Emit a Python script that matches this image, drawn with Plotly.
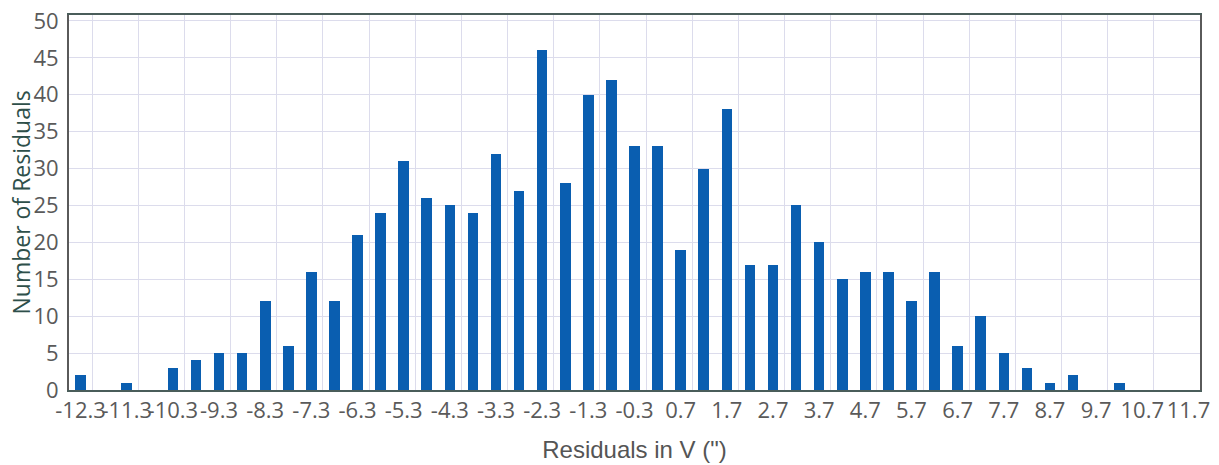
import plotly.graph_objects as go

residual_bins = [-12.3, -11.8, -11.3, -10.8, -10.3, -9.8, -9.3, -8.8, -8.3, -7.8,
                 -7.3, -6.8, -6.3, -5.8, -5.3, -4.8, -4.3, -3.8, -3.3, -2.8,
                 -2.3, -1.8, -1.3, -0.8, -0.3, 0.2, 0.7, 1.2, 1.7, 2.2,
                 2.7, 3.2, 3.7, 4.2, 4.7, 5.2, 5.7, 6.2, 6.7, 7.2,
                 7.7, 8.2, 8.7, 9.2, 9.7, 10.2, 10.7, 11.2, 11.7]
counts = [2, 0, 1, 0, 3, 4, 5, 5, 12, 6,
          16, 12, 21, 24, 31, 26, 25, 24, 32, 27,
          46, 28, 40, 42, 33, 33, 19, 30, 38, 17,
          17, 25, 20, 15, 16, 16, 12, 16, 6, 10,
          5, 3, 1, 2, 0, 1, 0, 0, 0]
tick_values = residual_bins[::2]
tick_labels = ["%.1f" % v for v in tick_values]
grid_positions = [v + 0.25 for v in tick_values]

fig = go.Figure()
fig.add_trace(go.Bar(x=residual_bins, y=counts, width=0.23,
                     marker=dict(color="#0a5eb0", line=dict(width=0)),
                     xaxis="x", yaxis="y"))
# invisible trace to host vertical grid axis
fig.add_trace(go.Scatter(x=[residual_bins[0]], y=[0], mode="markers",
                         marker=dict(opacity=0), xaxis="x2", yaxis="y",
                         hoverinfo="skip", showlegend=False))

xrange = [residual_bins[0] - 0.25, residual_bins[-1] + 0.25]
tickfont = dict(family="Open Sans", size=22, color="#5a5a5a")

fig.update_layout(
    width=1211, height=457,
    margin=dict(l=61, r=19, t=7, b=75),
    paper_bgcolor="white", plot_bgcolor="white",
    showlegend=False,
    bargap=0,
    xaxis=dict(range=xrange, tickmode="array", tickvals=tick_values, ticktext=tick_labels,
               tickangle=0, automargin=False, ticklabeloverflow="allow",
               showgrid=False, zeroline=False, ticks="", tickfont=tickfont,
               showline=True, linecolor="#4a5d5a", linewidth=2, mirror=True,
               title=dict(text="Residuals in V (\")", standoff=18,
                          font=dict(family="Liberation Sans", size=24, color="#555555"))),
    xaxis2=dict(range=xrange, overlaying="x", tickmode="array", tickvals=grid_positions,
                showticklabels=False, showgrid=True, gridcolor="#dcdcec", gridwidth=1,
                zeroline=False, ticks="", showline=False, automargin=False),
    yaxis=dict(range=[0, 50.8], tickmode="linear", tick0=0, dtick=5, automargin=False,
               ticklabeloverflow="allow",
               showgrid=True, gridcolor="#dcdcec", gridwidth=1, zeroline=False,
               ticks="", tickfont=tickfont, ticklabelstandoff=4,
               showline=True, linecolor="#5a5a5a", linewidth=2, mirror=True),
    annotations=[dict(text="Number of Residuals", textangle=-90,
                      xref="paper", yref="paper", x=0, y=0.5, xanchor="center", yanchor="middle",
                      xshift=-49, showarrow=False,
                      font=dict(family="Open Sans", size=23, color="#2e4f4a"))],
)
fig.write_html("out.html")
